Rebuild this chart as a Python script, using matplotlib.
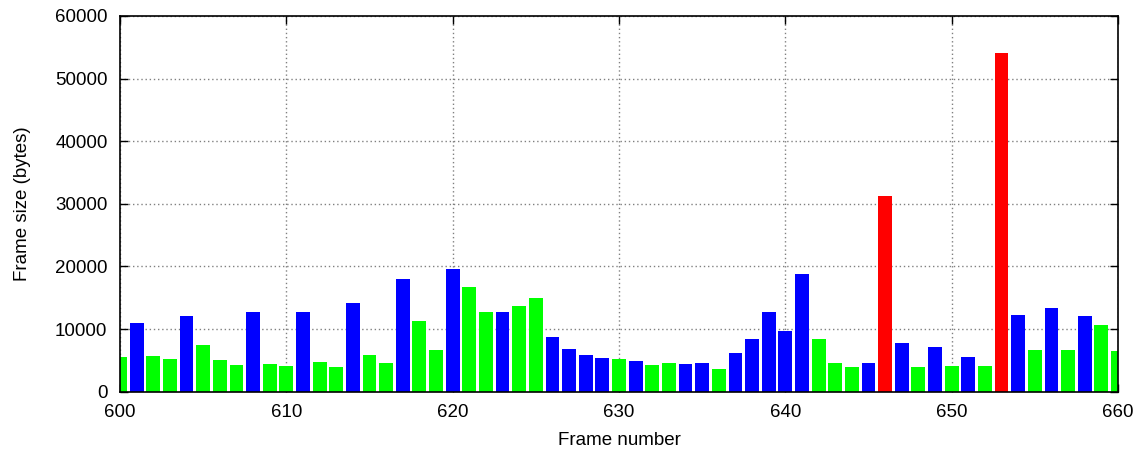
import numpy as np
import matplotlib
matplotlib.use("Agg")
import matplotlib.pyplot as plt

plt.rcParams['font.family'] = ['Liberation Sans', 'DejaVu Sans']

# frame numbers 600..660
frames = list(range(600, 661))
# frame type: I (red), P (blue), B (green)
types = ['B', 'P', 'B', 'B', 'P', 'B', 'B', 'B', 'P', 'B',
         'B', 'P', 'B', 'B', 'P', 'B', 'B', 'P', 'B', 'B',
         'P', 'B', 'B', 'P', 'B', 'B', 'P', 'P', 'P', 'P',
         'B', 'P', 'B', 'B', 'P', 'P', 'B', 'P', 'P', 'P',
         'P', 'P', 'B', 'B', 'B', 'P', 'I', 'P', 'B', 'P',
         'B', 'P', 'B', 'I', 'P', 'B', 'P', 'B', 'P', 'B',
         'B']
sizes = [5540, 10970, 5700, 5220, 12090, 7460, 5060, 4260, 12730, 4420,
         4100, 12730, 4740, 3940, 14170, 5860, 4580, 18000, 11290, 6660,
         19600, 16720, 12730, 12730, 13690, 14960, 8740, 6820, 5860, 5380,
         5220, 4900, 4260, 4580, 4420, 4580, 3620, 6180, 8420, 12730,
         9690, 18800, 8420, 4580, 3940, 4580, 31250, 7780, 3940, 7140,
         4100, 5540, 4100, 54090, 12250, 6660, 13370, 6660, 12090, 10650,
         6500]
type_colors = {'I': '#ff0000', 'P': '#0000ff', 'B': '#00ff00'}

fig = plt.figure(figsize=(11.45, 4.53), dpi=100)
ax = fig.add_axes([120 / 1145, 1 - 391.7 / 453, 998 / 1145, 375.7 / 453])

cols = [type_colors[t] for t in types]
ax.bar(frames, sizes, width=0.83, color=cols, linewidth=0, zorder=3)

ax.set_xlim(600, 660)
ax.set_ylim(0, 60000)
ax.set_xticks(range(600, 661, 10))
ax.set_yticks(range(0, 60001, 10000))
ax.grid(True, color='#808080', linestyle=(0, (1, 2)), linewidth=1, zorder=1)
ax.tick_params(direction='in', top=True, right=True, length=6, width=1,
               labelsize=13.5, pad=9)
for s in ax.spines.values():
    s.set_linewidth(1.2)
    s.set_zorder(4)

ax.set_xlabel('Frame number', fontsize=13.5, labelpad=8)
ax.set_ylabel('Frame size (bytes)', fontsize=13.5, labelpad=17)

fig.savefig('out.png', dpi=100)
